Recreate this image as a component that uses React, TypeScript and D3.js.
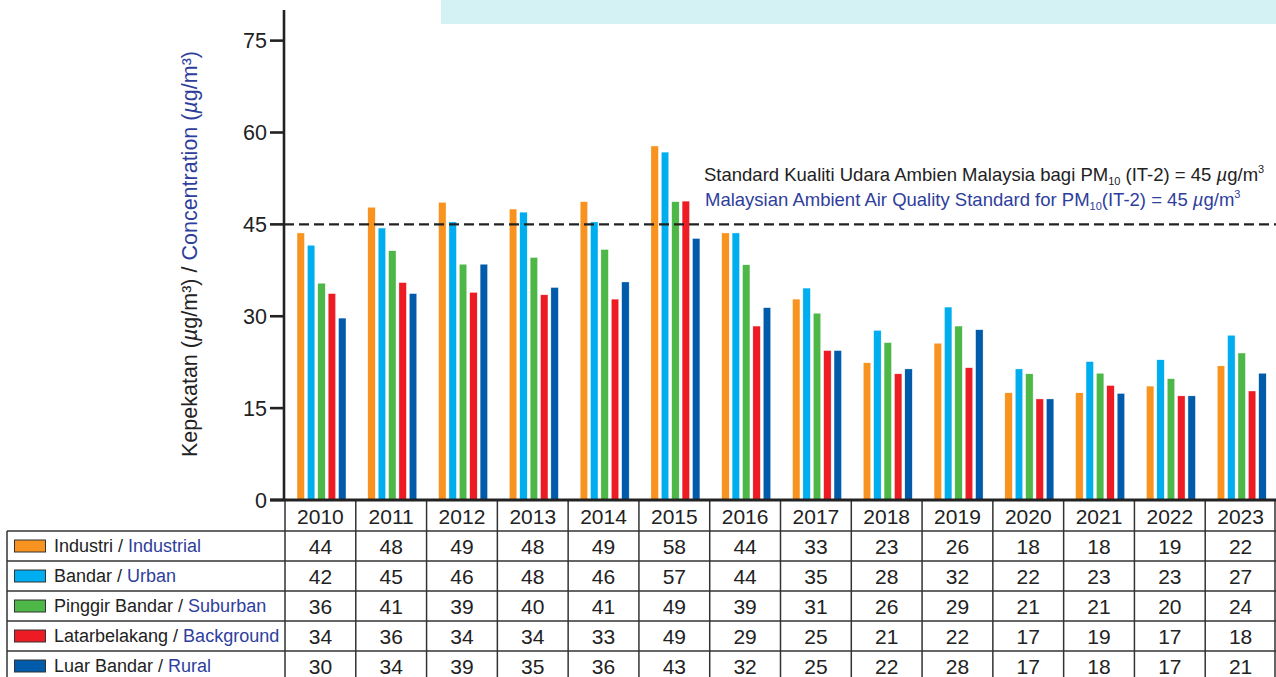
import React from "react";
import * as d3 from "d3";

const years = ["2010","2011","2012","2013","2014","2015","2016","2017","2018","2019","2020","2021","2022","2023"];

const industri = [43.6,47.8,48.6,47.5,48.7,57.8,43.6,32.8,22.4,25.6,17.5,17.5,18.6,21.9];
const bandar = [41.6,44.4,45.4,47.0,45.4,56.8,43.6,34.6,27.7,31.5,21.4,22.6,22.9,26.9];
const pinggir = [35.4,40.7,38.5,39.6,40.9,48.7,38.4,30.5,25.7,28.4,20.6,20.7,19.8,24.0];
const latar = [33.7,35.5,33.9,33.5,32.8,48.8,28.4,24.4,20.6,21.6,16.5,18.7,17.0,17.8];
const luar = [29.7,33.7,38.5,34.7,35.6,42.7,31.4,24.4,21.4,27.8,16.5,17.4,17.0,20.7];

const tIndustri = ["44","48","49","48","49","58","44","33","23","26","18","18","19","22"];
const tBandar = ["42","45","46","48","46","57","44","35","28","32","22","23","23","27"];
const tPinggir = ["36","41","39","40","41","49","39","31","26","29","21","21","20","24"];
const tLatar = ["34","36","34","34","33","49","29","25","21","22","17","19","17","18"];
const tLuar = ["30","34","39","35","36","43","32","25","22","28","17","18","17","21"];

const seriesMs = ["Industri","Bandar","Pinggir Bandar","Latarbelakang","Luar Bandar"];
const seriesEn = ["Industrial","Urban","Suburban","Background","Rural"];
const colors = ["#F7931E","#00AEEF","#4DB848","#ED1C24","#005BAA"];

const yTicks = [0,15,30,45,60,75];
const standard = 45;

const BLUE = "#2E3E9C";
const FONT = "'Liberation Sans', Arial, sans-serif";

export default function App() {
  const values = [industri, bandar, pinggir, latar, luar];
  const tables = [tIndustri, tBandar, tPinggir, tLatar, tLuar];
  const y = d3.scaleLinear().domain([0, 80]).range([500, 10]);
  const x = d3.scaleBand().domain(years).range([285, 1276]).padding(0);
  const bw = x.bandwidth();
  const inner = d3.scaleBand<number>().domain([0,1,2,3,4]).range([12, 61]).paddingInner(0.28).paddingOuter(0);
  const axisX = 284;
  const base = y(0);
  const headerBottom = 531;
  const rowH = 30;
  const tableLeft = 7;
  const lineColor = "#333";

  return (
    <div style={{ position: "absolute", left: 0, top: 0 }}>
      <svg width={1276} height={677} style={{ display: "block", fontFamily: FONT }}>
        <rect x={0} y={0} width={1276} height={677} fill="#fff" />
        <rect x={441} y={0} width={835} height={24} fill="#D4F1F3" />

        {/* bars */}
        {years.map((yr, i) => (
          <g key={yr}>
            {values.map((s, k) => (
              <rect
                key={k}
                x={(x(yr) as number) + (inner(k) as number)}
                y={y(s[i])}
                width={inner.bandwidth()}
                height={base - y(s[i])}
                fill={colors[k]}
                stroke="#fff"
                strokeWidth={0.4}
              />
            ))}
          </g>
        ))}

        {/* standard line */}
        <line x1={axisX} x2={1276} y1={y(standard)} y2={y(standard)} stroke="#222" strokeWidth={2.4} strokeDasharray="10,5" />
        <text x={704} y={181} fontSize={18.5} fill="#222">
          Standard Kualiti Udara Ambien Malaysia bagi PM
          <tspan fontSize={11} dy={4}>10</tspan>
          <tspan dy={-4}> (IT-2) = 45 </tspan>
          <tspan fontStyle="italic">µ</tspan>
          <tspan>g/m</tspan>
          <tspan fontSize={11} dy={-8}>3</tspan>
        </text>
        <text x={705} y={206} fontSize={18.5} fill={BLUE}>
          Malaysian Ambient Air Quality Standard for PM
          <tspan fontSize={11} dy={4}>10</tspan>
          <tspan dy={-4}>(IT-2) = 45 </tspan>
          <tspan fontStyle="italic">µ</tspan>
          <tspan>g/m</tspan>
          <tspan fontSize={11} dy={-8}>3</tspan>
        </text>

        {/* y axis */}
        <line x1={axisX} x2={axisX} y1={10} y2={base + 1} stroke="#222" strokeWidth={2.6} />
        {yTicks.map((t) => (
          <g key={t}>
            <line x1={270} x2={axisX} y1={y(t)} y2={y(t)} stroke="#222" strokeWidth={2.6} />
            <text x={267} y={y(t)} dy="0.35em" textAnchor="end" fontSize={21.5} fill="#222">{t}</text>
          </g>
        ))}
        <text transform="translate(197,254) rotate(-90)" textAnchor="middle" fontSize={21.5} fill="#222">
          Kepekatan (<tspan fontStyle="italic">µ</tspan>g/m³) / <tspan fill={BLUE}>Concentration (<tspan fontStyle="italic">µ</tspan>g/m³)</tspan>
        </text>

        {/* table header years */}
        {years.map((yr) => (
          <text key={yr} x={(x(yr) as number) + bw / 2} y={524} textAnchor="middle" fontSize={21} fill="#222">{yr}</text>
        ))}
        {/* horizontal lines */}
        {[0,1,2,3,4].map((r) => (
          <line key={r} x1={tableLeft} x2={1276} y1={headerBottom + r * rowH} y2={headerBottom + r * rowH} stroke={lineColor} strokeWidth={1.5} />
        ))}
        {/* vertical lines */}
        {years.map((yr) => (
          <line key={yr} x1={x(yr) as number} x2={x(yr) as number} y1={base} y2={677} stroke={lineColor} strokeWidth={1.5} />
        ))}
        <line x1={1275} x2={1275} y1={base} y2={677} stroke={lineColor} strokeWidth={1.5} />
        <line x1={tableLeft} x2={tableLeft} y1={headerBottom} y2={677} stroke={lineColor} strokeWidth={1.5} />
        {/* rows */}
        {seriesMs.map((ms, k) => {
          const cy = headerBottom + k * rowH + rowH / 2;
          return (
            <g key={ms}>
              <rect x={14.5} y={cy - 6} width={31} height={12} fill={colors[k]} stroke="#333" strokeWidth={1} />
              <text x={54} y={cy} dy="0.35em" fontSize={18} fill="#222">
                {ms} / <tspan fill={BLUE}>{seriesEn[k]}</tspan>
              </text>
              {years.map((yr, i) => (
                <text key={yr} x={(x(yr) as number) + bw / 2} y={cy + 1} dy="0.35em" textAnchor="middle" fontSize={21} fill="#222">
                  {tables[k][i]}
                </text>
              ))}
            </g>
          );
        })}

        {/* x axis baseline */}
        <line x1={axisX - 14} x2={1276} y1={base} y2={base} stroke="#222" strokeWidth={3} />
      </svg>
    </div>
  );
}
